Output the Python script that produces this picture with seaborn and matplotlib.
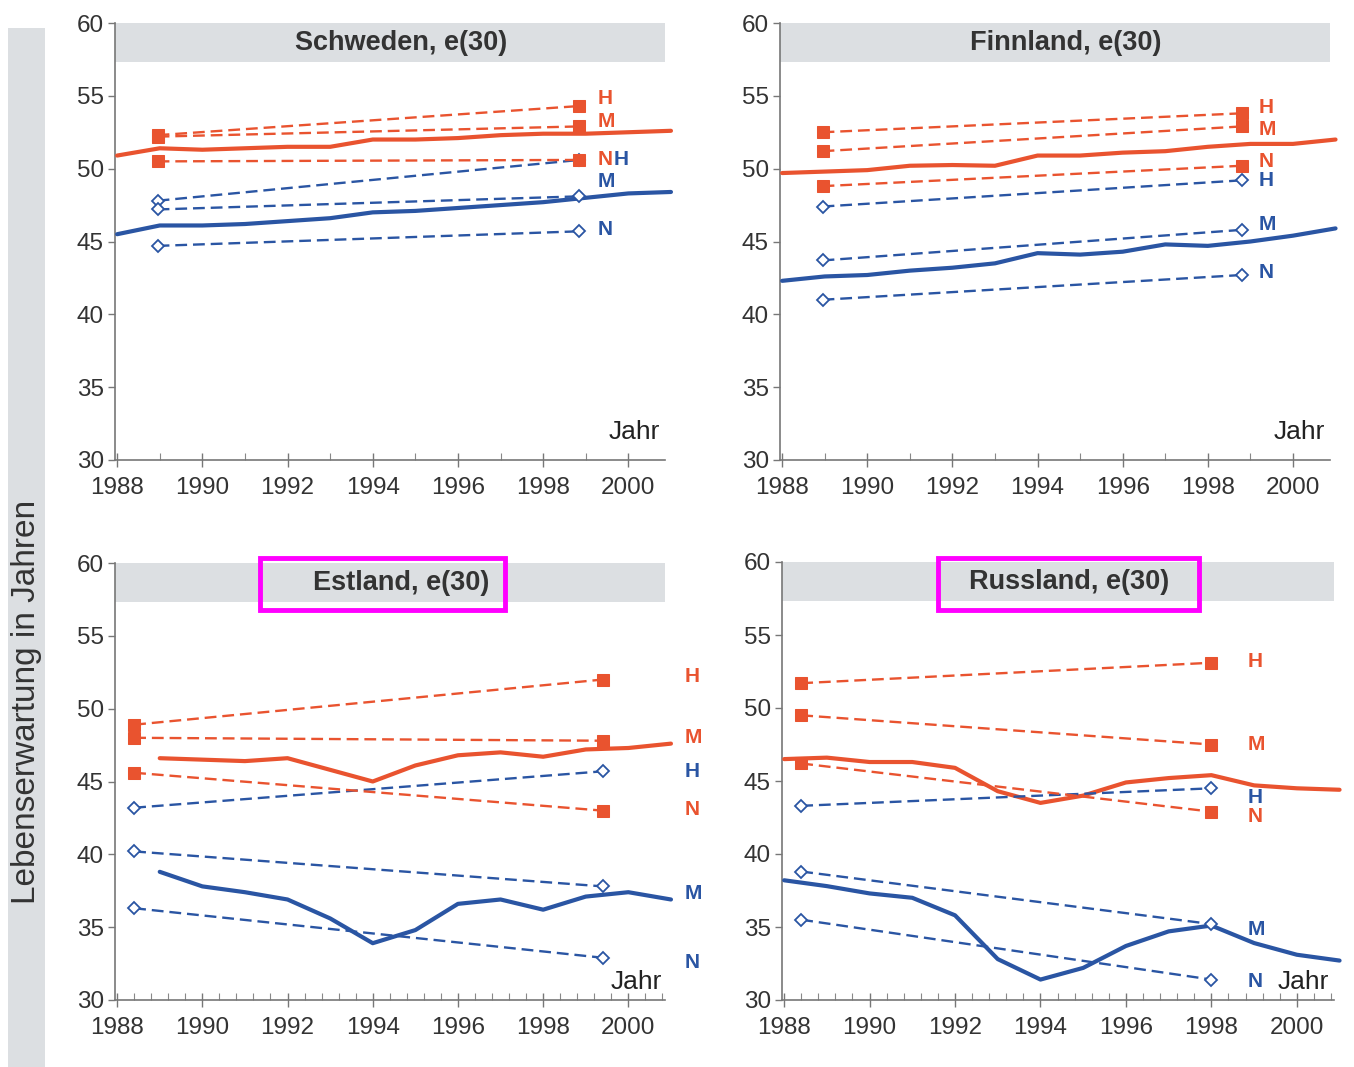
import matplotlib
matplotlib.use("Agg")
import matplotlib.pyplot as plt
from matplotlib.patches import Rectangle
from matplotlib.ticker import MultipleLocator
import seaborn as sns

# ---------------- data ----------------
EDU = ["H", "M", "N"]

SE_YEARS = [1988, 1989, 1990, 1991, 1992, 1993, 1994, 1995, 1996, 1997, 1998, 1999, 2000, 2001]
SE_WOMEN = [50.9, 51.4, 51.3, 51.4, 51.5, 51.5, 52.0, 52.0, 52.1, 52.3, 52.4, 52.4, 52.5, 52.6]
SE_MEN = [45.5, 46.1, 46.1, 46.2, 46.4, 46.6, 47.0, 47.1, 47.3, 47.5, 47.7, 48.0, 48.3, 48.4]
SE_CENSUS = [1988.95, 1998.85]
SE_W_EDU = {"H": [52.3, 54.3], "M": [52.2, 52.9], "N": [50.5, 50.6]}
SE_M_EDU = {"H": [47.8, 50.6], "M": [47.2, 48.1], "N": [44.7, 45.7]}

FI_YEARS = [1988, 1989, 1990, 1991, 1992, 1993, 1994, 1995, 1996, 1997, 1998, 1999, 2000, 2001]
FI_WOMEN = [49.7, 49.8, 49.9, 50.2, 50.25, 50.2, 50.9, 50.9, 51.1, 51.2, 51.5, 51.7, 51.7, 52.0]
FI_MEN = [42.3, 42.6, 42.7, 43.0, 43.2, 43.5, 44.2, 44.1, 44.3, 44.8, 44.7, 45.0, 45.4, 45.9]
FI_CENSUS = [1988.95, 1998.8]
FI_W_EDU = {"H": [52.5, 53.8], "M": [51.2, 52.9], "N": [48.8, 50.2]}
FI_M_EDU = {"H": [47.4, 49.2], "M": [43.7, 45.8], "N": [41.0, 42.7]}

EE_YEARS = [1989, 1990, 1991, 1992, 1993, 1994, 1995, 1996, 1997, 1998, 1999, 2000, 2001]
EE_WOMEN = [46.6, 46.5, 46.4, 46.6, 45.8, 45.0, 46.1, 46.8, 47.0, 46.7, 47.2, 47.3, 47.6]
EE_MEN = [38.8, 37.8, 37.4, 36.9, 35.6, 33.9, 34.8, 36.6, 36.9, 36.2, 37.1, 37.4, 36.9]
EE_CENSUS = [1988.4, 1999.4]
EE_W_EDU = {"H": [48.9, 52.0], "M": [48.0, 47.8], "N": [45.6, 43.0]}
EE_M_EDU = {"H": [43.2, 45.7], "M": [40.2, 37.8], "N": [36.3, 32.9]}

RU_YEARS = [1988, 1989, 1990, 1991, 1992, 1993, 1994, 1995, 1996, 1997, 1998, 1999, 2000, 2001]
RU_WOMEN = [46.5, 46.6, 46.3, 46.3, 45.9, 44.3, 43.5, 44.0, 44.9, 45.2, 45.4, 44.7, 44.5, 44.4]
RU_MEN = [38.2, 37.8, 37.3, 37.0, 35.8, 32.8, 31.4, 32.2, 33.7, 34.7, 35.1, 33.9, 33.1, 32.7]
RU_CENSUS = [1988.4, 1998.0]
RU_W_EDU = {"H": [51.7, 53.1], "M": [49.5, 47.5], "N": [46.2, 42.9]}
RU_M_EDU = {"H": [43.3, 44.5], "M": [38.8, 35.2], "N": [35.5, 31.4]}

TITLES = ["Schweden, e(30)", "Finnland, e(30)", "Estland, e(30)", "Russland, e(30)"]
Y_LABEL = "Lebenserwartung in Jahren"
X_WORD = "Jahr"
X_TICKS = [1988, 1990, 1992, 1994, 1996, 1998, 2000]
Y_TICKS = [30, 35, 40, 45, 50, 55, 60]

# ---------------- style ----------------
RED = "#E9532F"
BLUE = "#2A55A3"
BAND = "#DCDFE2"
TXT = "#333333"

sns.set_style("white")
plt.rcParams["font.family"] = ["Liberation Sans", "DejaVu Sans"]

W, H = 1354, 1067
fig = plt.figure(figsize=(W / 100, H / 100), dpi=100)
fig.patch.set_facecolor("white")


def fx(px):
    return px / W


def fy(py):
    return 1 - py / H


panels = [
    dict(rect=(115, 23, 665, 460), xlim=(1987.95, 2000.86), years=SE_YEARS, women=SE_WOMEN, men=SE_MEN,
         census=SE_CENSUS, wedu=SE_W_EDU, medu=SE_M_EDU, minor=1.0,
         wlab={"H": (1999.27, 54.85), "M": (1999.27, 53.27), "N": (1999.27, 50.6)},
         mlab={"H": (1999.66, 50.6), "M": (1999.27, 49.1), "N": (1999.27, 45.8)},
         jahr=(2000.75, 31.9)),
    dict(rect=(780, 23, 1330, 460), xlim=(1987.95, 2000.87), years=FI_YEARS, women=FI_WOMEN, men=FI_MEN,
         census=FI_CENSUS, wedu=FI_W_EDU, medu=FI_M_EDU, minor=1.0,
         wlab={"H": (1999.19, 54.17), "M": (1999.19, 52.72), "N": (1999.19, 50.46)},
         mlab={"H": (1999.19, 49.22), "M": (1999.19, 46.2), "N": (1999.19, 42.84)},
         jahr=(2000.75, 31.9)),
    dict(rect=(115, 563, 665, 1000), xlim=(1987.95, 2000.86), years=EE_YEARS, women=EE_WOMEN, men=EE_MEN,
         census=EE_CENSUS, wedu=EE_W_EDU, medu=EE_M_EDU, minor=0.4,
         wlab={"H": (2001.31, 52.18), "M": (2001.31, 47.99), "N": (2001.31, 43.05)},
         mlab={"H": (2001.31, 45.72), "M": (2001.31, 37.28), "N": (2001.31, 32.6)},
         jahr=(2000.8, 31.25)),
    dict(rect=(782, 562, 1334, 1000), xlim=(1987.95, 2000.87), years=RU_YEARS, women=RU_WOMEN, men=RU_MEN,
         census=RU_CENSUS, wedu=RU_W_EDU, medu=RU_M_EDU, minor=0.4,
         wlab={"H": (1998.85, 53.2), "M": (1998.85, 47.5), "N": (1998.85, 42.6)},
         mlab={"H": (1998.85, 43.9), "M": (1998.85, 34.8), "N": (1998.85, 31.3)},
         jahr=(2000.75, 31.25)),
]

# left grey strip with y label
fig.patches.append(Rectangle((fx(8), fy(1067)), fx(45) - fx(8), fy(28) - fy(1067),
                             transform=fig.transFigure, facecolor=BAND, edgecolor="none", zorder=0))
fig.text(fx(27), fy(702), Y_LABEL, rotation=90, ha="center", va="center", fontsize=24, color=TXT)

for p, title in zip(panels, TITLES):
    x0, y0, x1, y1 = p["rect"]
    ax = fig.add_axes([fx(x0), fy(y1), fx(x1) - fx(x0), fy(y0) - fy(y1)])
    ax.set_xlim(*p["xlim"])
    ax.set_ylim(30, 60)
    ax.set_facecolor("none")
    for s in ["top", "right"]:
        ax.spines[s].set_visible(False)
    for s in ["left", "bottom"]:
        ax.spines[s].set_color("#777777")
        ax.spines[s].set_linewidth(1.2)

    ax.axhspan(57.3, 60, color=BAND, zorder=0, lw=0)
    ax.text(p["xlim"][0] + 0.52 * (p["xlim"][1] - p["xlim"][0]), 58.6, title,
            fontsize=19.5, fontweight="bold", color=TXT, ha="center", va="center")

    # solid period lines
    sns.lineplot(x=p["years"], y=p["women"], ax=ax, color=RED, lw=3.0, clip_on=False, zorder=3)
    sns.lineplot(x=p["years"], y=p["men"], ax=ax, color=BLUE, lw=3.0, clip_on=False, zorder=3)

    # census-based education lines
    for e in EDU:
        sns.lineplot(x=p["census"], y=p["wedu"][e], ax=ax, color=RED, lw=1.7, linestyle=(0, (5, 2.5)),
                     marker="s", markersize=8, markeredgecolor=RED, markerfacecolor=RED,
                     clip_on=False, zorder=4)
        sns.lineplot(x=p["census"], y=p["medu"][e], ax=ax, color=BLUE, lw=1.7, linestyle=(0, (5, 2.5)),
                     marker="D", markersize=6, markeredgecolor=BLUE, markerfacecolor="white",
                     markeredgewidth=1.3, clip_on=False, zorder=4)
        wx, wy = p["wlab"][e]
        ax.text(wx, wy, e, color=RED, fontsize=15, fontweight="bold", ha="left", va="center", clip_on=False)
        mx, my = p["mlab"][e]
        ax.text(mx, my, e, color=BLUE, fontsize=15, fontweight="bold", ha="left", va="center", clip_on=False)

    ax.text(p["jahr"][0], p["jahr"][1], X_WORD, fontsize=19, color="#222222", ha="right", va="center")

    ax.set_xticks(X_TICKS)
    ax.set_xticklabels([str(t) for t in X_TICKS])
    ax.xaxis.set_minor_locator(MultipleLocator(p["minor"]))
    ax.set_yticks(Y_TICKS)
    ax.tick_params(axis="x", which="major", direction="inout", length=10, width=1, color="#777777",
                   labelsize=17.5, labelcolor=TXT, pad=7, bottom=True)
    ax.tick_params(axis="x", which="minor", direction="in", length=5, width=0.8, color="#888888", bottom=True)
    ax.tick_params(axis="y", which="major", direction="out", length=5, width=1, color="#777777",
                   labelsize=17.5, labelcolor=TXT, pad=3, left=True)
    ax.set_xlabel("")
    ax.set_ylabel("")
    ax.grid(False)

# highlight boxes
for (bx0, by0, bx1, by1) in [(260, 558, 505, 610), (938, 558, 1199, 610)]:
    fig.patches.append(Rectangle((fx(bx0), fy(by1)), fx(bx1) - fx(bx0), fy(by0) - fy(by1),
                                 transform=fig.transFigure, facecolor="none", edgecolor="#FF00FF",
                                 lw=3.5, zorder=10))

fig.savefig("out.png", dpi=100)
